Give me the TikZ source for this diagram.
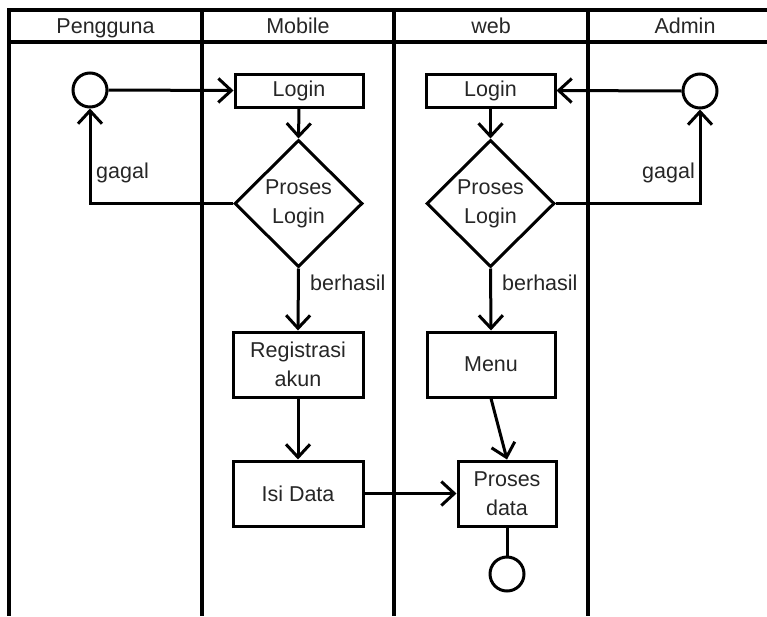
\documentclass[tikz,border=0pt]{standalone}
\usepackage{fontspec}
\setmainfont{Liberation Sans}
\usetikzlibrary{shapes.geometric,arrows.meta}
\definecolor{txt}{HTML}{262626}
\begin{document}
\begin{tikzpicture}[x=1pt,y=-1pt,
  every node/.style={font=\fontsize{21.5}{29}\selectfont, text=txt},
  lane/.style={line width=3.2pt},
  proc/.style={draw, line width=3pt, rectangle, inner sep=0pt, align=center},
  dec/.style={draw, line width=3pt, diamond, inner sep=0pt, minimum width=128pt, minimum height=127pt, align=center},
  term/.style={draw, line width=3pt, circle, inner sep=0pt, minimum size=34pt},
  arr/.style={line width=3pt, -{Straight Barb[length=13pt,width=24pt]}},
  con/.style={line width=3pt},
  lbl/.style={inner sep=0pt}
]
\useasboundingbox (0,0) rectangle (767,616);
% swimlanes
\draw[lane] (767,10) -- (9,10) -- (9,616);
\draw[lane] (9,42) -- (767,42);
\draw[lane] (202,10) -- (202,616);
\draw[lane] (394,10) -- (394,616);
\draw[lane] (588,10) -- (588,616);
\node[lbl, anchor=base] (hP) at (105.5,33) {Pengguna};
\node[lbl, anchor=base] (hM) at (298,33) {Mobile};
\node[lbl, anchor=base] (hW) at (491,33) {web};
\node[lbl, anchor=base] (hA) at (685,33) {Admin};
% nodes
\node[term] (s1) at (90,90) {};
\node[proc, minimum width=128pt, minimum height=33pt] (l1) at (299,90.5) {Login};
\node[proc, minimum width=129pt, minimum height=33pt] (l2) at (490.5,90.5) {Login};
\node[term] (s2) at (700,91) {};
\node[dec] (d1) at (298.5,203.5) {Proses\\Login};
\node[dec] (d2) at (490.5,203.5) {Proses\\Login};
\node[proc, minimum width=130pt, minimum height=65pt] (reg) at (298,364.5) {Registrasi\\akun};
\node[proc, minimum width=128pt, minimum height=65pt] (menu) at (491,364.5) {Menu};
\node[proc, minimum width=130pt, minimum height=65pt] (isi) at (298,493.5) {Isi Data};
\node[proc, minimum width=98pt, minimum height=65pt] (pd) at (507,493.5) {Proses\\data};
\node[term] (e) at (507,574) {};
% connectors
\draw[arr] (s1.east) -- (l1.west);
\draw[arr] (l1.south) -- (d1.north);
\draw[arr] (d1.west) -| (s1.south);
\node[lbl, anchor=base west] (g1) at (96,178) {gagal};
\draw[arr] (d1.south) -- (reg.north);
\node[lbl, anchor=base west] (b1) at (310,290) {berhasil};
\draw[arr] (reg.south) -- (isi.north);
\draw[arr] (isi.east) -- (pd.west);
\draw[arr] (s2.west) -- (l2.east);
\draw[arr] (l2.south) -- (d2.north);
\draw[arr] (d2.east) -| (s2.south);
\node[lbl, anchor=base east] (g2) at (695,178) {gagal};
\draw[arr] (d2.south) -- (menu.north);
\node[lbl, anchor=base west] (b2) at (502,290) {berhasil};
\draw[arr] (menu.south) -- (pd.north);
\draw[con] (pd.south) -- (e.north);
\end{tikzpicture}
\end{document}
